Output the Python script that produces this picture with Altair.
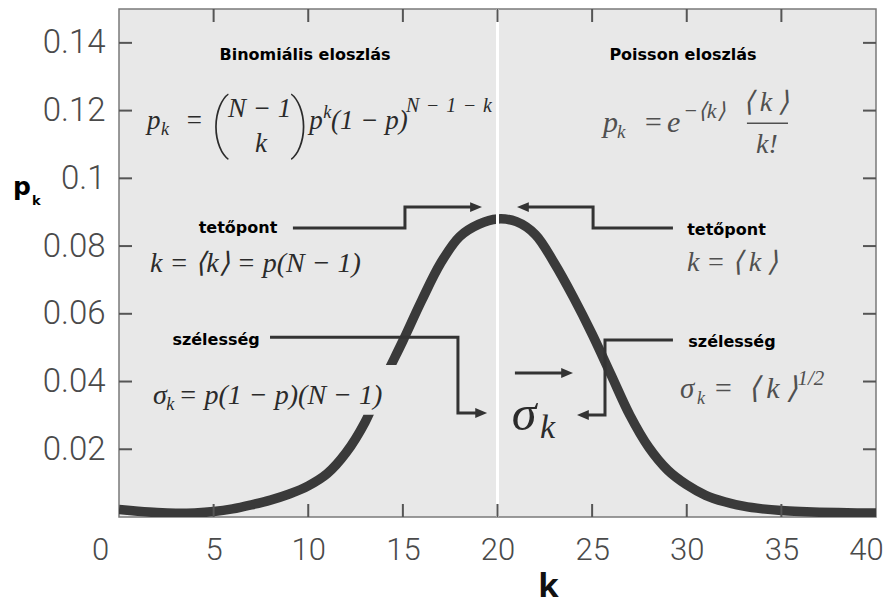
import altair as alt
import pandas as pd

# ---- degree distribution curve -------------------------------------------
k_values = list(range(41))
pk_values = [0.0022, 0.0017, 0.0013, 0.0011, 0.0012, 0.0016, 0.0024, 0.0036,
             0.0050, 0.0068, 0.0092, 0.0128, 0.0190, 0.0280, 0.0405, 0.0520,
             0.0640, 0.0750, 0.0828, 0.0864, 0.0880, 0.0872, 0.0834, 0.0750,
             0.0650, 0.0540, 0.0420, 0.0300, 0.0205, 0.0138, 0.0095, 0.0064,
             0.0045, 0.0032, 0.0024, 0.0019, 0.0016, 0.0014, 0.0013, 0.0012,
             0.0012]

x_label_values = [0, 5, 10, 15, 20, 25, 30, 35, 40]
x_tick_values = [5, 10, 15, 20, 25, 30, 35]
y_tick_values = [0.02, 0.04, 0.06, 0.08, 0.10, 0.12, 0.14]
mean_k = 20

# ---- annotation arrows (polylines + arrow tips) ---------------------------
arrow_ids = ["peak_l"] * 4 + ["peak_r"] * 4 + ["width_l"] * 4 + ["width_r"] * 4 + ["mid"] * 2
arrow_k = [9.19, 15.11, 15.11, 18.85,
           21.35, 25.05, 25.05, 29.27,
           7.98, 17.91, 17.91, 19.12,
           29.27, 25.68, 25.68, 24.52,
           20.92, 23.66]
arrow_p = [0.0853, 0.0853, 0.0915, 0.0915,
           0.0915, 0.0915, 0.0853, 0.0853,
           0.0531, 0.0531, 0.0307, 0.0307,
           0.0523, 0.0523, 0.0301, 0.0301,
           0.0425, 0.0425]
tip_right_k = [19.18, 19.45, 23.99]
tip_right_p = [0.0915, 0.0307, 0.0425]
tip_left_k = [21.03, 24.20]
tip_left_p = [0.0915, 0.0301]

# ---- bold captions --------------------------------------------------------
caption_text = ["Binomiális eloszlás", "Poisson eloszlás", "tetőpont", "tetőpont",
                "szélesség", "szélesség"]
caption_k = [9.83, 29.80, 6.29, 32.10, 5.13, 32.39]
caption_p = [0.1349, 0.1349, 0.0839, 0.0833, 0.0508, 0.0502]

# ---- formula pieces ------------------------------------------------------
DARK = "#2b2b2b"
GREY = "#505050"
sp = "\u2004"   # three-per-em space
en = "\u2002"   # en space
th = "\u2009"   # thin space
mean_sym = f"⟨{th}k{th}⟩"
formula_text = ["p", "k", "=", "N − 1", "p", "k", "(1 − p)", f"N{sp}−{sp}1{sp}−{sp}k",
                "p", "k", "=", "e", "−⟨k⟩",
                "k = ⟨k⟩ = p(N − 1)", f"k = {mean_sym}",
                "σ", "k", "= p(1 − p)(N − 1)",
                "σ", "k", f"={en}{mean_sym}", "1/2",
                "k"]
formula_k = [1.48, 2.22, 3.49, 5.76, 10.05, 10.79, 11.20, 15.17,
             25.57, 26.31, 27.69, 28.96, 29.80,
             1.64, 30.01,
             1.80, 2.50, 3.15,
             29.64, 30.54, 31.39, 35.85,
             22.25]
formula_p = [0.1145, 0.1127, 0.1145, 0.1181, 0.1145, 0.1178, 0.1145, 0.1196,
             0.1137, 0.1119, 0.1137, 0.1137, 0.1178,
             0.0723, 0.0726,
             0.0334, 0.0316, 0.0334,
             0.0351, 0.0334, 0.0351, 0.0390,
             0.0233]
formula_size = [27, 18, 27, 27, 27, 18, 27, 20,
                30, 19, 30, 30, 22,
                28, 28,
                28, 18, 28,
                29, 18, 30, 21,
                34]
formula_color = [DARK] * 8 + [GREY] * 5 + [DARK, GREY] + [DARK] * 3 + [GREY] * 4 + [DARK]

# centred pieces: binomial coefficient, fraction parts, big sigma
centred_text = ["k", mean_sym, "k!", "σ"]
centred_k = [7.50, 34.19, 34.24, 21.40]
centred_p = [0.1078, 0.1199, 0.1075, 0.0257]
centred_size = [27, 28, 28, 50]
centred_color = [DARK, GREY, GREY, DARK]

paren_text = ["(", ")"]
paren_k = [5.34, 9.55]
paren_p = [0.1098, 0.1098]

fraction_k = [33.18]
fraction_k2 = [35.35]
fraction_p = [0.1163]

# backdrop behind the sigma formula on the left
box_k, box_k2 = [12.9], [14.9]
box_p, box_p2 = [0.0302], [0.0449]

W, H = 757, 508
BG = "#e8e8e8"
INK = "#333333"
SERIF = "Liberation Serif"
SANS_B = "DejaVu Sans"

x_scale = alt.Scale(domain=[0, 40], nice=False, zero=False)
y_scale = alt.Scale(domain=[0, 0.15], nice=False, zero=False)

curve_df = pd.DataFrame({"k": k_values, "pk": pk_values})

curve = alt.Chart(curve_df).mark_line(
    color="#3a3a3a", strokeWidth=9.5, interpolate="catmull-rom", clip=True, strokeCap="butt"
).encode(
    x=alt.X("k:Q", scale=x_scale,
            axis=alt.Axis(values=x_label_values, ticks=False, domain=False, grid=False,
                          labelFont="Roboto", labelFontWeight=300, labelFontSize=31,
                          labelColor="#4a4a4a", labelPadding=18, labelFlush=False,
                          labelOffset={"condition": [{"test": "datum.value == 0", "value": -19},
                                                     {"test": "datum.value == 40", "value": -10}],
                                       "value": 0},
                          title="k", titleFont="Open Sans", titleFontWeight="bold",
                          titleFontSize=33, titleColor="#111111", titleX=429, titleY=79,
                          titleBaseline="alphabetic", titleAlign="center")),
    y=alt.Y("pk:Q", scale=y_scale,
            axis=alt.Axis(values=y_tick_values, ticks=False, domain=False, grid=False,
                          format=".2~f", labelFont="Roboto", labelFontWeight=300,
                          labelFontSize=33, labelColor="#4a4a4a", labelPadding=14,
                          title=None)),
)

mean_line = alt.Chart(pd.DataFrame({"k": [mean_k]})).mark_rule(
    color="white", strokeWidth=3
).encode(x=alt.X("k:Q", scale=x_scale))

formula_box = alt.Chart(pd.DataFrame({"k": box_k, "k2": box_k2, "pk": box_p, "pk2": box_p2})).mark_rect(
    color=BG
).encode(x=alt.X("k:Q", scale=x_scale), x2="k2:Q", y=alt.Y("pk:Q", scale=y_scale), y2="pk2:Q")

TICK = "#555555"
xt = pd.DataFrame({"k": x_tick_values})
yt = pd.DataFrame({"pk": y_tick_values})
ticks_bottom = alt.Chart(xt).mark_rule(color=TICK, strokeWidth=2).encode(
    x=alt.X("k:Q", scale=x_scale), y=alt.value(H), y2=alt.value(H - 13))
ticks_top = alt.Chart(xt).mark_rule(color=TICK, strokeWidth=2).encode(
    x=alt.X("k:Q", scale=x_scale), y=alt.value(0), y2=alt.value(13))
ticks_left = alt.Chart(yt).mark_rule(color=TICK, strokeWidth=2).encode(
    y=alt.Y("pk:Q", scale=y_scale), x=alt.value(0), x2=alt.value(13))
ticks_right = alt.Chart(yt).mark_rule(color=TICK, strokeWidth=2).encode(
    y=alt.Y("pk:Q", scale=y_scale), x=alt.value(W), x2=alt.value(W - 13))

arrow_df = pd.DataFrame({"id": arrow_ids, "k": arrow_k, "pk": arrow_p,
                         "order": list(range(len(arrow_ids)))})
arrows = alt.Chart(arrow_df).mark_line(color=INK, strokeWidth=3, strokeJoin="miter").encode(
    x=alt.X("k:Q", scale=x_scale), y=alt.Y("pk:Q", scale=y_scale),
    detail="id:N", order="order:Q")

head_r = alt.Chart(pd.DataFrame({"k": tip_right_k, "pk": tip_right_p})).mark_point(
    shape="M 0 0 L -1 -0.42 L -1 0.42 Z", filled=True, size=560, color=INK, opacity=1
).encode(x=alt.X("k:Q", scale=x_scale), y=alt.Y("pk:Q", scale=y_scale))
head_l = alt.Chart(pd.DataFrame({"k": tip_left_k, "pk": tip_left_p})).mark_point(
    shape="M 0 0 L 1 -0.42 L 1 0.42 Z", filled=True, size=560, color=INK, opacity=1
).encode(x=alt.X("k:Q", scale=x_scale), y=alt.Y("pk:Q", scale=y_scale))

captions = alt.Chart(pd.DataFrame({"t": caption_text, "k": caption_k, "pk": caption_p})).mark_text(
    font=SANS_B, fontWeight="bold", fontSize=16, color="black", align="center",
    baseline="alphabetic"
).encode(x=alt.X("k:Q", scale=x_scale), y=alt.Y("pk:Q", scale=y_scale), text="t:N")

formula_df = pd.DataFrame({"t": formula_text, "k": formula_k, "pk": formula_p,
                           "s": formula_size, "c": formula_color})
formulas = alt.Chart(formula_df).mark_text(
    font=SERIF, fontStyle="italic", align="left", baseline="alphabetic"
).encode(x=alt.X("k:Q", scale=x_scale), y=alt.Y("pk:Q", scale=y_scale), text="t:N",
         size=alt.Size("s:Q", scale=None), color=alt.Color("c:N", scale=None))

centred_df = pd.DataFrame({"t": centred_text, "k": centred_k, "pk": centred_p,
                           "s": centred_size, "c": centred_color})
centred = alt.Chart(centred_df).mark_text(
    font=SERIF, fontStyle="italic", align="center", baseline="alphabetic"
).encode(x=alt.X("k:Q", scale=x_scale), y=alt.Y("pk:Q", scale=y_scale), text="t:N",
         size=alt.Size("s:Q", scale=None), color=alt.Color("c:N", scale=None))

parens = alt.Chart(pd.DataFrame({"t": paren_text, "k": paren_k, "pk": paren_p})).mark_text(
    font="Roboto", fontWeight=100, fontSize=64, color=DARK, align="center", baseline="alphabetic"
).encode(x=alt.X("k:Q", scale=x_scale), y=alt.Y("pk:Q", scale=y_scale), text="t:N")

fraction = alt.Chart(pd.DataFrame({"k": fraction_k, "k2": fraction_k2, "pk": fraction_p})).mark_rule(
    color=GREY, strokeWidth=1.5
).encode(x=alt.X("k:Q", scale=x_scale), x2="k2:Q", y=alt.Y("pk:Q", scale=y_scale))

# y-axis title p_k, set as text beside the axis
ytitle = alt.Chart(pd.DataFrame({"t": ["p", "k"], "k": [-5.60, -4.60], "pk": [0.0951, 0.0921],
                                 "s": [25, 13]})).mark_text(
    font=SANS_B, fontWeight="bold", color="black", align="left", baseline="alphabetic"
).encode(x=alt.X("k:Q", scale=x_scale), y=alt.Y("pk:Q", scale=y_scale), text="t:N",
         size=alt.Size("s:Q", scale=None))

chart = alt.layer(
    curve, mean_line, formula_box, ticks_bottom, ticks_top, ticks_left, ticks_right,
    arrows, head_r, head_l, captions, formulas, centred, parens, fraction, ytitle
).properties(
    width=W, height=H,
    padding={"left": 119, "top": 9, "right": 11, "bottom": 86},
    autosize=alt.AutoSizeParams(type="none"),
    background="white",
).configure_view(
    fill=BG, stroke="#7a7a7a", strokeWidth=1.5
)

chart.save("out.html", embed_options={"renderer": "svg", "actions": False})
